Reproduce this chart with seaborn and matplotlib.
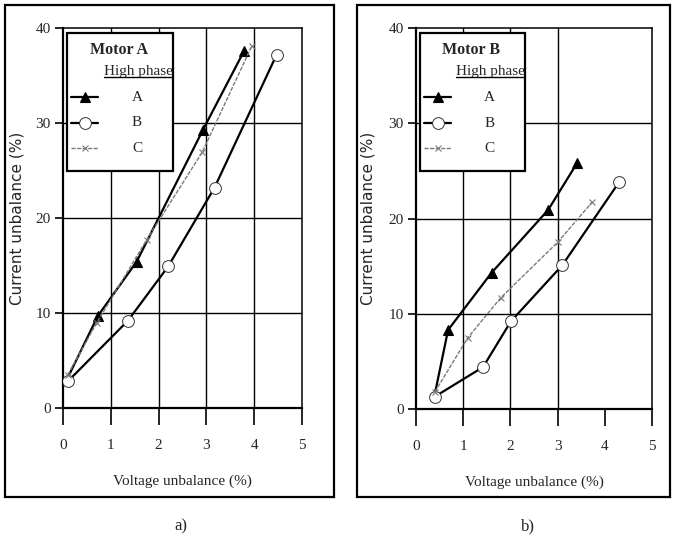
import matplotlib
matplotlib.use('Agg')
import matplotlib.pyplot as plt
import seaborn as sns
import pandas as pd
from matplotlib.patches import Rectangle
from matplotlib.lines import Line2D

sns.set_style('ticks')
plt.rcParams['font.family'] = ['Liberation Serif', 'DejaVu Serif']

# ---------------- data ----------------
phases = ['A', 'B', 'C']

# Motor A
ma_A_x = [0.1, 0.73, 1.54, 2.93, 3.79]
ma_A_y = [3.2, 9.7, 15.4, 29.3, 37.6]
ma_B_x = [0.1, 1.36, 2.2, 3.17, 4.47]
ma_B_y = [2.8, 9.2, 14.9, 23.2, 37.2]
ma_C_x = [0.1, 0.71, 1.75, 2.91, 3.95]
ma_C_y = [3.5, 9.0, 17.7, 26.9, 38.1]

# Motor B
mb_A_x = [0.4, 0.68, 1.6, 2.8, 3.41]
mb_A_y = [1.6, 8.3, 14.3, 20.9, 25.8]
mb_B_x = [0.4, 1.42, 2.01, 3.1, 4.3]
mb_B_y = [1.3, 4.4, 9.2, 15.1, 23.8]
mb_C_x = [0.4, 1.1, 1.8, 3.0, 3.73]
mb_C_y = [1.8, 7.5, 11.7, 17.5, 21.7]

x_ticks = [0, 1, 2, 3, 4, 5]
y_ticks = [0, 10, 20, 30, 40]
vgrid_a = [1, 2, 3, 4]
vgrid_b = [1, 2, 3]
titles = ['Motor A', 'Motor B']
captions = ['a)', 'b)']
xlabel = 'Voltage unbalance (%)'
ylabel = 'Current unbalance (%)'
subtitle = 'High phase'

panels = [
    {'A': (ma_A_x, ma_A_y), 'B': (ma_B_x, ma_B_y), 'C': (ma_C_x, ma_C_y)},
    {'A': (mb_A_x, mb_A_y), 'B': (mb_B_x, mb_B_y), 'C': (mb_C_x, mb_C_y)},
]

styles = {
    'A': dict(color='black', lw=1.6, ls='-', marker='^', ms=7, mfc='black', mec='black', mew=0.8),
    'B': dict(color='black', lw=1.6, ls='-', marker='o', ms=8.5, mfc='white', mec='#333333', mew=0.7),
    'C': dict(color='#7a7a7a', lw=1.0, ls=(0, (3, 1)), marker='x', ms=4, mfc='#7a7a7a', mec='#7a7a7a', mew=0.8),
}

# ---------------- figure ----------------
fig = plt.figure(figsize=(6.75, 5.44), dpi=100)

ax_pos = [
    [63 / 675, 1 - 408 / 544, (302 - 63) / 675, (408 - 28) / 544],
    [416 / 675, 1 - 409 / 544, (652 - 416) / 675, (409 - 28) / 544],
]
frame_pos = [
    (5 / 675, 1 - 497 / 544, (334 - 5) / 675, (497 - 5) / 544),
    (357 / 675, 1 - 497 / 544, (670 - 357) / 675, (497 - 5) / 544),
]
vgrids = [vgrid_a, vgrid_b]
caption_x = [181 / 675, 528 / 675]
ylab_x = [-0.163, -0.17]

sub_texts = []
for i, data in enumerate(panels):
    ax = fig.add_axes(ax_pos[i])
    fig.patches.append(Rectangle(frame_pos[i][:2], frame_pos[i][2], frame_pos[i][3],
                                 transform=fig.transFigure, fill=False,
                                 lw=1.6, ec='black', zorder=0))
    for ph in phases:
        xs, ys = data[ph]
        df = pd.DataFrame({'x': xs, 'y': ys})
        st = styles[ph]
        sns.lineplot(data=df, x='x', y='y', ax=ax, sort=False, estimator=None,
                     color=st['color'], lw=st['lw'], ls=st['ls'], marker=st['marker'],
                     ms=st['ms'], mfc=st['mfc'], mec=st['mec'], mew=st['mew'],
                     zorder=3, legend=False)
    ax.set_xlim(0, 5)
    ax.set_ylim(0, 40)
    ax.set_xticks(x_ticks)
    ax.set_yticks(y_ticks)
    ax.set_xticklabels([str(t) for t in x_ticks], fontsize=11)
    ax.set_yticklabels([str(t) for t in y_ticks], fontsize=11)
    ax.tick_params(axis='x', length=12, width=1.2, pad=10, direction='out', color='black')
    ax.tick_params(axis='y', length=6, width=1.2, pad=3, direction='out', color='black')
    for s in ax.spines.values():
        s.set_visible(True)
        s.set_color('black')
        s.set_linewidth(1.1)
    ax.spines['bottom'].set_linewidth(1.6)
    ax.spines['left'].set_linewidth(1.6)
    # gridlines
    for yv in y_ticks[1:-1]:
        ax.axhline(yv, color='black', lw=1.0, zorder=0.5)
    for xv in vgrids[i]:
        ax.axvline(xv, color='black', lw=1.0, zorder=0.5)

    ax.set_xlabel(xlabel, fontsize=11)
    ax.xaxis.set_label_coords(0.5, -0.175)
    ax.set_ylabel(ylabel, fontsize=11, family=['DejaVu Sans'])
    ax.yaxis.set_label_coords(ylab_x[i], 0.5)

    # legend box
    ax.add_patch(Rectangle((0.015, 0.624), 0.446, 0.363, transform=ax.transAxes,
                           fc='white', ec='black', lw=1.6, zorder=2))
    ax.text(0.235, 0.942, titles[i], transform=ax.transAxes, ha='center', va='center',
            fontsize=11.5, fontweight='bold', zorder=4)
    t = ax.text(0.315, 0.885, subtitle, transform=ax.transAxes,
                ha='center', va='center', fontsize=11, zorder=4)
    sub_texts.append((ax, t))
    for ph, yy in zip(phases, [0.818, 0.75, 0.684]):
        st = styles[ph]
        ax.add_line(Line2D([0.035, 0.148], [yy, yy], transform=ax.transAxes,
                           color=st['color'], lw=st['lw'], ls=st['ls'], zorder=4))
        ax.add_line(Line2D([0.092], [yy], transform=ax.transAxes, ls='none',
                           marker=st['marker'], ms=st['ms'], mfc=st['mfc'],
                           mec=st['mec'], mew=st['mew'], zorder=4))
        ax.text(0.31, yy, ph, transform=ax.transAxes, ha='center', va='center',
                fontsize=11, zorder=4)

    fig.text(caption_x[i], 1 - 526 / 544, captions[i], ha='center', va='center', fontsize=12)

# underline for "High phase"
fig.canvas.draw()
r = fig.canvas.get_renderer()
for ax, t in sub_texts:
    bb = t.get_window_extent(r).transformed(ax.transAxes.inverted())
    ax.add_line(Line2D([bb.x0, bb.x1], [bb.y0 + 0.004, bb.y0 + 0.004],
                       transform=ax.transAxes, color='black', lw=1.0, zorder=4))

fig.savefig('out.png', dpi=100)
